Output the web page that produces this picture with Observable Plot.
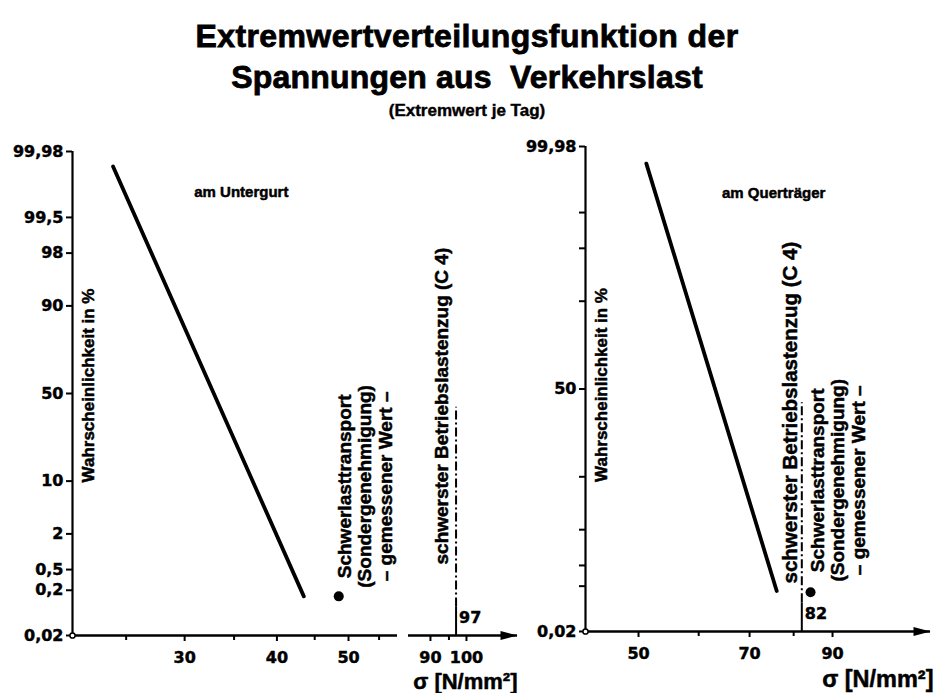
<!DOCTYPE html>
<html><head><meta charset="utf-8">
<script src="https://cdn.jsdelivr.net/npm/d3@7"></script>
<script src="https://cdn.jsdelivr.net/npm/@observablehq/plot@0.6"></script>
<style>
body{margin:0;background:#fff;width:934px;height:693px;position:relative;overflow:hidden;font-family:"Liberation Sans",Arial,sans-serif;color:#000}
.t{position:absolute;left:0;width:934px;text-align:center;font-weight:bold;white-space:nowrap;line-height:1;-webkit-text-stroke:0.8px #000}
#t1{top:20px;font-size:32px;letter-spacing:0.4px}
#t2{top:61px;font-size:32px;letter-spacing:0.2px}
#t3{top:102px;font-size:17px;-webkit-text-stroke:0.4px #000}
#left{position:absolute;left:0;top:130px}
#right{position:absolute;left:520px;top:130px}
</style></head>
<body>
<div class="t" id="t1">Extremwertverteilungsfunktion der</div>
<div class="t" id="t2">Spannungen aus&nbsp; Verkehrslast</div>
<div class="t" id="t3">(Extremwert je Tag)</div>
<div id="left"></div>
<div id="right"></div>
<script>
// ---- data ----
const probTicks = [0.02, 0.2, 0.5, 2, 10, 50, 90, 98, 99.5, 99.98];
const probTickLabels = ["0,02", "0,2", "0,5", "2", "10", "50", "90", "98", "99,5", "99,98"];
const probTickLabelsRight = ["0,02", "", "", "", "", "50", "", "", "", "99,98"];

const leftMajorTicks = [30, 40, 50, 90, 100];
const leftMinorTicks = [25, 35, 45, 55, 95];
const rightMajorTicks = [50, 70, 90];
const rightMinorTicks = [60, 80];

// sigma [N/mm2] vs probability [%]
const untergurtLine = [{s: 24.0, p: 99.955}, {s: 43.5, p: 0.15}];
const untergurtMeasured = [{s: 48.5, p: 0.15}];
const untergurtC4 = [97];
const quertraegerLine = [{s: 51.2, p: 99.95}, {s: 76.0, p: 0.16}];
const quertraegerMeasured = [{s: 84.2, p: 0.15}];
const quertraegerC4 = [82];
const c4TopP = 42;

// axis extents (broken axis on the left panel)
const leftAxis = [{x1: 21.15, x2: 58.25}, {x1: 84.4, x2: 116.1}];
const rightAxis = [{x1: 42.58, x2: 121.1}];

const measuredLabel = "Schwerlasttransport\n(Sondergenehmigung)\n– gemessener Wert –";
const c4Label = "schwerster Betriebslastenzug (C 4)";
const yLabel = "Wahrscheinlichkeit in %";
const xLabel = "σ [N/mm²]";

// ---- normal probability scale ----
function probit(p) {
  const a=[-3.969683028665376e+01,2.209460984245205e+02,-2.759285104469687e+02,1.383577518672690e+02,-3.066479806614716e+01,2.506628277459239e+00];
  const b=[-5.447609879822406e+01,1.615858368580409e+02,-1.556989798598866e+02,6.680131188771972e+01,-1.328068155288572e+01];
  const c=[-7.784894002430293e-03,-3.223964580411365e-01,-2.400758277161838e+00,-2.549732539343734e+00,4.374664141464968e+00,2.938163982698783e+00];
  const d=[7.784695709041462e-03,3.224671290700398e-01,2.445134137142996e+00,3.754408661907416e+00];
  const pl = 0.02425;
  if (p < pl) { const q = Math.sqrt(-2*Math.log(p)); return (((((c[0]*q+c[1])*q+c[2])*q+c[3])*q+c[4])*q+c[5])/((((d[0]*q+d[1])*q+d[2])*q+d[3])*q+1); }
  if (p <= 1 - pl) { const q = p - 0.5, r = q*q; return (((((a[0]*r+a[1])*r+a[2])*r+a[3])*r+a[4])*r+a[5])*q/(((((b[0]*r+b[1])*r+b[2])*r+b[3])*r+b[4])*r+1); }
  const q = Math.sqrt(-2*Math.log(1-p)); return -(((((c[0]*q+c[1])*q+c[2])*q+c[3])*q+c[4])*q+c[5])/((((d[0]*q+d[1])*q+d[2])*q+d[3])*q+1);
}
const Z = p => probit(p / 100);
const zMin = Z(0.02), zMax = Z(99.98);
const yTickZ = probTicks.map(Z);
const leftFmt = new Map(yTickZ.map((z, i) => [z, probTickLabels[i]]));
const rightFmt = new Map(yTickZ.map((z, i) => [z, probTickLabelsRight[i]]));

const NUM = {fontFamily: "DejaVu Sans", fontWeight: "bold", fontSize: 16, fill: "black", stroke: "black", strokeWidth: 0.45};
const txt = size => ({fontFamily: "Liberation Sans", fontWeight: "bold", fontSize: size, fill: "black", stroke: "black", strokeWidth: 0.5});

const arrowHead = {draw(ctx) { ctx.moveTo(0, 0); ctx.lineTo(-17, -4.5); ctx.lineTo(-17, 4.5); ctx.closePath(); }};

function panel({width, marginLeft, marginRight, marginTop, marginBottom, x, axisSegs, fmt, major, minor,
                curve, measured, c4, title, titlePos, c4dx, c4dy, c4size, mdx, mdy, labDy, xLabDx, xLabDy, xLabSize}) {
  const x0 = axisSegs[0].x1, xEnd = axisSegs[axisSegs.length - 1].x2;
  return Plot.plot({
    width, height: 563, marginLeft, marginRight, marginTop, marginBottom,
    style: {background: "white", color: "black", overflow: "visible", fontFamily: "Liberation Sans"},
    x: {...x, axis: null},
    y: {type: "linear", domain: [zMin, zMax]},
    marks: [
      // axis lines
      Plot.ruleX([x0], {x: d => d, y1: zMin, y2: zMax, strokeWidth: 2.2}),
      Plot.ruleY(axisSegs, {y: () => zMin, x1: "x1", x2: "x2", strokeWidth: 2.6}),
      Plot.dot([xEnd], {x: d => d, y: () => zMin, symbol: arrowHead, fill: "black", stroke: "none"}),
      Plot.axisY(yTickZ, {tickSize: 6, tickPadding: 3, tickFormat: z => fmt.get(z), strokeWidth: 2, label: null,
        fontFamily: "DejaVu Sans", fontWeight: "bold", fontSize: 16, fill: "black", textStroke: "black", textStrokeWidth: 0.45}),
      // x ticks
      Plot.ruleX(major, {x: d => d, y1: () => zMin, y2: () => zMin, insetBottom: -6, strokeWidth: 2}),
      Plot.ruleX(minor, {x: d => d, y1: () => zMin, y2: () => zMin, insetBottom: -5, strokeWidth: 2}),
      Plot.text(major, {x: d => d, y: () => zMin, text: d => String(d), lineAnchor: "top", dy: 16, ...NUM}),
      Plot.dot([x0], {x: d => d, y: () => zMin, r: 2.6, fill: "white", stroke: "black", strokeWidth: 1.5}),
      // distribution line
      Plot.line(curve, {x: "s", y: d => Z(d.p), strokeWidth: 3.8}),
      // heaviest service load train
      Plot.ruleX(c4, {x: d => d, y1: zMin, y2: Z(0.09), strokeWidth: 2}),
      Plot.ruleX(c4, {x: d => d, y1: Z(0.09), y2: Z(c4TopP), strokeWidth: 2, strokeDasharray: "9,3,2,3"}),
      Plot.text(c4, {x: d => d, y: () => zMin, text: d => String(d), textAnchor: "start", dx: 3, dy: -18, ...NUM}),
      Plot.text(c4, {x: d => d, y: () => zMin, text: () => c4Label, rotate: -90, textAnchor: "start", dx: c4dx, dy: c4dy, ...txt(c4size)}),
      // measured heavy transport
      Plot.dot(measured, {x: "s", y: d => Z(d.p), r: 5, fill: "black"}),
      Plot.text(measured, {x: "s", y: d => Z(d.p), text: () => measuredLabel, rotate: -90, textAnchor: "middle",
        lineAnchor: "middle", lineHeight: 1.08, dx: mdx, dy: mdy, ...txt(19)}),
      // labels
      Plot.text([yLabel], {x: () => x0, y: () => 0, text: d => d, rotate: -90, dx: 16, dy: labDy, ...txt(17)}),
      Plot.text([title], {x: () => titlePos.s, y: () => Z(titlePos.p), text: d => d, ...txt(15)}),
      Plot.text([xLabel], {frameAnchor: "bottom-right", text: d => d, textAnchor: "end", dx: xLabDx, dy: xLabDy, ...txt(xLabSize)})
    ]
  });
}

document.getElementById("left").append(panel({
  width: 520, marginLeft: 72, marginRight: 3, marginTop: 21, marginBottom: 58,
  x: {type: "log", domain: [21.15, 58.25, 84.4, 116.1], range: [72, 397, 408, 517]},
  axisSegs: leftAxis, fmt: leftFmt, major: leftMajorTicks, minor: leftMinorTicks,
  curve: untergurtLine, measured: untergurtMeasured, c4: untergurtC4,
  title: "am Untergurt", titlePos: {s: 35.8, p: 99.84},
  c4dx: -14, c4dy: -71, c4size: 19, mdx: 26, mdy: -110, labDy: -8, xLabDx: 0, xLabDy: 53, xLabSize: 22
}));

document.getElementById("right").append(panel({
  width: 414, marginLeft: 65, marginRight: 4, marginTop: 16, marginBottom: 62,
  x: {type: "log", domain: [42.58, 121.1]},
  axisSegs: rightAxis, fmt: rightFmt, major: rightMajorTicks, minor: rightMinorTicks,
  curve: quertraegerLine, measured: quertraegerMeasured, c4: quertraegerC4,
  title: "am Querträger", titlePos: {s: 75.3, p: 99.79},
  c4dx: -11, c4dy: -48, c4size: 20.5, mdx: 27, mdy: -112, labDy: -4, xLabDx: 3, xLabDy: 55, xLabSize: 23.5
}));
</script>
</body></html>
